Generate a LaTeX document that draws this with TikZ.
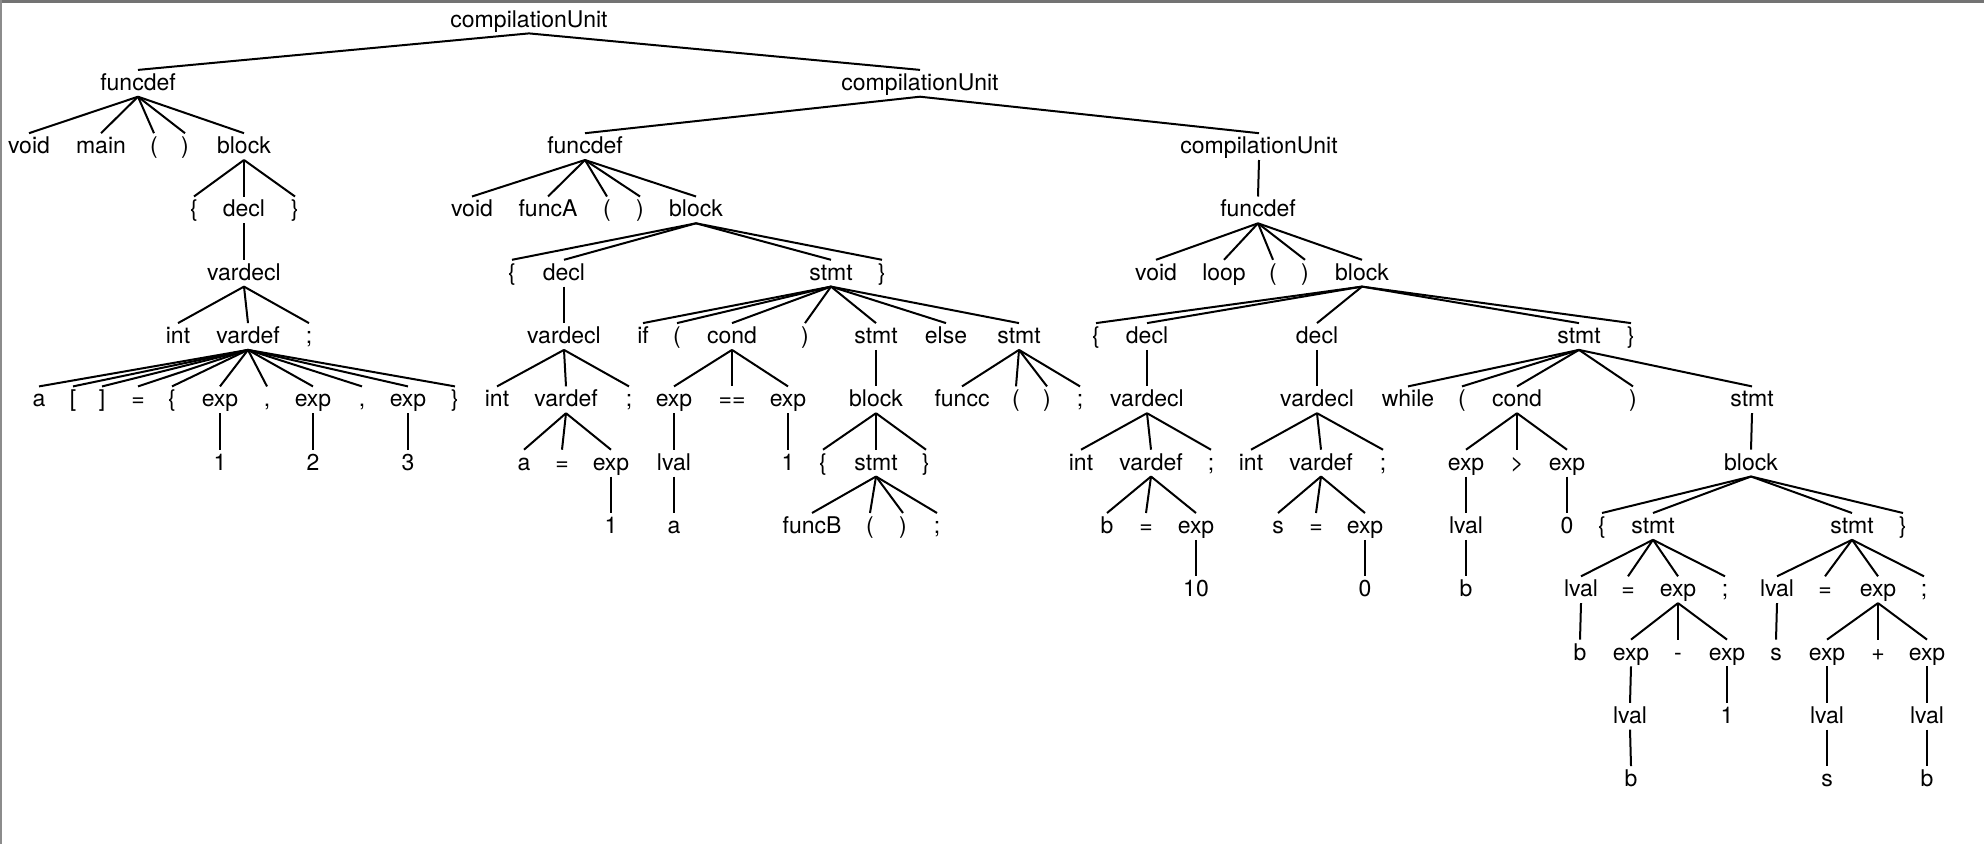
\documentclass[tikz,border=0pt]{standalone}
\usepackage{fontspec}
\setmainfont{TeX Gyre Heros}
\usepackage{tikz}

\begin{document}
\begin{tikzpicture}[x=0.5pt,y=-31.65pt,
  tok/.style={anchor=base,inner sep=0pt,text height=10pt,text depth=3pt,font=\fontsize{11.5}{13}\selectfont},
  edge/.style={line width=1pt}]
  \useasboundingbox (0,-0.4265) rectangle (1984,12.907);
  % frame
  \draw[black!55,line width=1.5pt] (0,-0.4028) -- (1984,-0.4028);
  \draw[black!45,line width=1.2pt] (1,-0.4265) -- (1,12.907);
  % levels
  \node[tok] (cuA) at (529,0) {compilationUnit};
  \foreach \n/\x/\t in {fdA/138/funcdef, cuB/920/compilationUnit}
    \node[tok] (\n) at (\x,1) {\t};
  \foreach \n/\x/\t in {mVoid/29/void, mName/101/main, mLp/154/(, mRp/185/), mBlk/244/block,
      fdB/585/funcdef, cuC/1259/compilationUnit}
    \node[tok] (\n) at (\x,2) {\t};
  \foreach \n/\x/\t in {mLb/194/\{, mDecl/244/decl, mRb/295/\}, aVoid/472/void, aName/548/funcA,
      aLp/607/(, aRp/640/), aBlk/696/block, fdC/1258/funcdef}
    \node[tok] (\n) at (\x,3) {\t};
  \foreach \n/\x/\t in {mVdl/244/vardecl, aLb/512/\{, aDecl/564/decl, aStmt/831/stmt, aRb/882/\},
      lVoid/1156/void, lName/1224/loop, lLp/1273/(, lRp/1305/), lBlk/1362/block}
    \node[tok] (\n) at (\x,4) {\t};
  \foreach \n/\x/\t in {mInt/178/int, mVdf/248/vardef, mSemi/309/;, aVdl/564/vardecl, aIf/643/if,
      aLp2/677/(, aCond/732/cond, aRp2/805/), aThen/876/stmt, aElse/946/else, aEls/1019/stmt,
      lLb/1096/\{, lDecl1/1147/decl, lDecl2/1317/decl, lStmt/1579/stmt, lRb/1631/\}}
    \node[tok] (\n) at (\x,5) {\t};
  \foreach \n/\x/\t in {mA/39/a, mLs/73/[, mRs/102/], mEq/138/=, mLc/172/\{, mE1/220/exp,
      mE2/313/exp, mE3/408/exp, mRc/455/\}, aInt/497/int, aVdf/566/vardef, aSemi/629/;,
      aEx1/674/exp, aEqq/732/==, aEx2/788/exp, aTBlk/876/block, aFc/962/funcc, aFcL/1016/(,
      aFcR/1047/), aFcS/1080/;, lVdl1/1147/vardecl, lVdl2/1317/vardecl, lWhile/1408/while,
      lWLp/1462/(, lCond/1517/cond, lWRp/1633/), lBody/1752/stmt}
    \node[tok] (\n) at (\x,6) {\t};
  \node[tok] (mC1) at (267,6) {,};
  \node[tok] (mC2) at (362,6) {,};
  \foreach \n/\x/\t in {m1/220/1, m2/313/2, m3/408/3, aVa/524/a, aVeq/562/=, aVe/611/exp,
      aLv/674/lval, aOne/788/1, aTLb/823/\{, aTSt/876/stmt, aTRb/926/\}, lInt1/1081/int,
      lVdf1/1151/vardef, lSemi1/1211/;, lInt2/1251/int, lVdf2/1321/vardef, lSemi2/1383/;,
      lCe1/1466/exp, lGt/1517/>, lCe2/1567/exp, lBBlk/1751/block}
    \node[tok] (\n) at (\x,7) {\t};
  \foreach \n/\x/\t in {aV1/611/1, aLa/674/a, aFb/812/funcB, aFbL/870/(, aFbR/903/), aFbS/937/;,
      lB/1107/b, lEq1/1146/=, lE1/1196/exp, lS/1278/s, lEq2/1316/=, lE2/1365/exp,
      lCLv/1466/lval, lZero/1567/0, lBLb/1602/\{, lSt1/1653/stmt, lSt2/1852/stmt, lBRb/1903/\}}
    \node[tok] (\n) at (\x,8) {\t};
  \foreach \n/\x/\t in {lTen/1196/10, lZ2/1365/0, lCb/1466/b, lLv1/1581/lval, lAs1/1628/=,
      lEx1/1678/exp, lSc1/1725/;, lLv2/1777/lval, lAs2/1825/=, lEx2/1878/exp, lSc2/1924/;}
    \node[tok] (\n) at (\x,9) {\t};
  \foreach \n/\x/\t in {lB1/1580/b, lEa/1631/exp, lMin/1678/-, lEb/1727/exp, lS1/1776/s,
      lEc/1827/exp, lPlus/1878/+, lEd/1927/exp}
    \node[tok] (\n) at (\x,10) {\t};
  \foreach \n/\x/\t in {lLa/1630/lval, lOne/1727/1, lLc/1827/lval, lLd/1927/lval}
    \node[tok] (\n) at (\x,11) {\t};
  \foreach \n/\x/\t in {lBa/1631/b, lSc/1827/s, lBd/1927/b}
    \node[tok] (\n) at (\x,12) {\t};
  % branches
  \foreach \p/\c in {cuA/fdA, cuA/cuB,
      fdA/mVoid, fdA/mName, fdA/mLp, fdA/mRp, fdA/mBlk,
      mBlk/mLb, mBlk/mDecl, mBlk/mRb, mDecl/mVdl, mVdl/mInt, mVdl/mVdf, mVdl/mSemi,
      mVdf/mA, mVdf/mLs, mVdf/mRs, mVdf/mEq, mVdf/mLc, mVdf/mE1, mVdf/mC1, mVdf/mE2,
      mVdf/mC2, mVdf/mE3, mVdf/mRc, mE1/m1, mE2/m2, mE3/m3,
      cuB/fdB, cuB/cuC,
      fdB/aVoid, fdB/aName, fdB/aLp, fdB/aRp, fdB/aBlk,
      aBlk/aLb, aBlk/aDecl, aBlk/aStmt, aBlk/aRb,
      aDecl/aVdl, aVdl/aInt, aVdl/aVdf, aVdl/aSemi, aVdf/aVa, aVdf/aVeq, aVdf/aVe, aVe/aV1,
      aStmt/aIf, aStmt/aLp2, aStmt/aCond, aStmt/aRp2, aStmt/aThen, aStmt/aElse, aStmt/aEls,
      aCond/aEx1, aCond/aEqq, aCond/aEx2, aEx1/aLv, aLv/aLa, aEx2/aOne,
      aThen/aTBlk, aTBlk/aTLb, aTBlk/aTSt, aTBlk/aTRb,
      aTSt/aFb, aTSt/aFbL, aTSt/aFbR, aTSt/aFbS,
      aEls/aFc, aEls/aFcL, aEls/aFcR, aEls/aFcS,
      cuC/fdC, fdC/lVoid, fdC/lName, fdC/lLp, fdC/lRp, fdC/lBlk,
      lBlk/lLb, lBlk/lDecl1, lBlk/lDecl2, lBlk/lStmt, lBlk/lRb,
      lDecl1/lVdl1, lVdl1/lInt1, lVdl1/lVdf1, lVdl1/lSemi1,
      lVdf1/lB, lVdf1/lEq1, lVdf1/lE1, lE1/lTen,
      lDecl2/lVdl2, lVdl2/lInt2, lVdl2/lVdf2, lVdl2/lSemi2,
      lVdf2/lS, lVdf2/lEq2, lVdf2/lE2, lE2/lZ2,
      lStmt/lWhile, lStmt/lWLp, lStmt/lCond, lStmt/lWRp, lStmt/lBody,
      lCond/lCe1, lCond/lGt, lCond/lCe2, lCe1/lCLv, lCLv/lCb, lCe2/lZero,
      lBody/lBBlk, lBBlk/lBLb, lBBlk/lSt1, lBBlk/lSt2, lBBlk/lBRb,
      lSt1/lLv1, lSt1/lAs1, lSt1/lEx1, lSt1/lSc1, lLv1/lB1,
      lEx1/lEa, lEx1/lMin, lEx1/lEb, lEa/lLa, lLa/lBa, lEb/lOne,
      lSt2/lLv2, lSt2/lAs2, lSt2/lEx2, lSt2/lSc2, lLv2/lS1,
      lEx2/lEc, lEx2/lPlus, lEx2/lEd, lEc/lLc, lLc/lSc, lEd/lLd, lLd/lBd}
    \draw[edge] (\p.south) -- (\c.north);
\end{tikzpicture}
\end{document}
